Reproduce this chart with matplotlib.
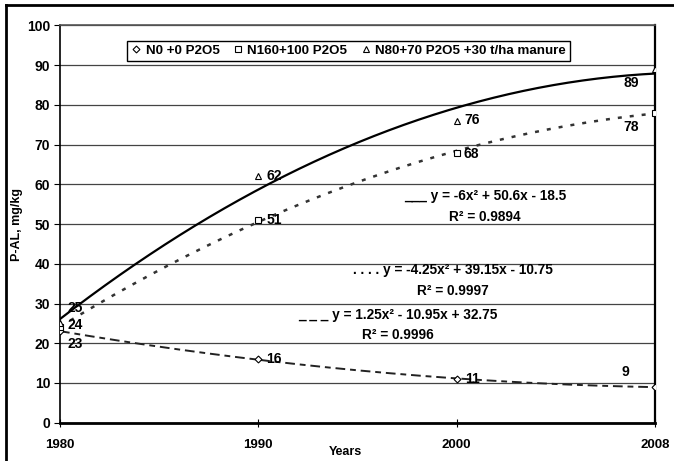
import numpy as np
import matplotlib
matplotlib.use("Agg")
import matplotlib.pyplot as plt
from matplotlib.lines import Line2D

plt.rcParams['font.family'] = ['Liberation Sans', 'DejaVu Sans']
plt.rcParams['font.weight'] = 'bold'

years = ['1980', '1990', '2000', '2008']
series_names = ['N0 +0 P2O5', 'N160+100 P2O5', 'N80+70 P2O5 +30 t/ha manure']
n0 = [23, 16, 11, 9]
n160 = [24, 51, 68, 78]
manure = [25, 62, 76, 89]

W, H = 674, 461
fig = plt.figure(figsize=(W / 100, H / 100), dpi=100)
ax = fig.add_axes([60 / W, 1 - 422.7 / H, (655 - 60) / W, (422.7 - 25.5) / H])

x = np.arange(1, len(years) + 1)
xs = np.linspace(1, len(years), 200)

# trendlines (2nd-order polynomial fits)
fits = {}
for name, vals, style in [
    ('man', manure, dict(ls='-', color='black', lw=1.6)),
    ('n160', n160, dict(ls=(0, (1.6, 3.2)), color='#333333', lw=1.8)),
    ('n0', n0, dict(ls=(0, (5, 2.5, 3, 2.5)), color='#222222', lw=1.4)),
]:
    c = np.polyfit(x, vals, 2)
    fits[name] = c
    ax.plot(xs, np.polyval(c, xs), zorder=3, **style)

mk = dict(ls='none', mfc='white', mec='black', mew=0.8, zorder=5)
ax.plot(x, n0, marker='D', ms=3.5, **mk)
ax.plot(x, n160, marker='s', ms=4.5, **mk)
ax.plot(x, manure, marker='^', ms=5, **mk)

ax.set_xlim(1, 4)
ax.set_ylim(0, 100)
ax.set_yticks(range(0, 101, 10))
ax.set_xticks(x)
ax.set_xticklabels(years)
ax.yaxis.grid(True, color='#444444', lw=0.9)
ax.set_axisbelow(True)
ax.tick_params(axis='y', labelsize=10, direction='out', length=4, width=0.8, pad=3)
ax.tick_params(axis='x', labelsize=9.5, direction='inout', length=6, width=0.8, pad=9)
for lab in ax.get_xticklabels() + ax.get_yticklabels():
    lab.set_fontweight('bold')
ax.spines['bottom'].set_linewidth(2)
ax.spines['left'].set_linewidth(1.2)
ax.spines['right'].set_linewidth(1.6)
ax.spines['top'].set_linewidth(1.2)
ax.spines['top'].set_color('#555555')

ax.set_ylabel('P-AL, mg/kg', fontsize=9, fontweight='bold', labelpad=3)
fig.text(345 / W, 1 - 452 / H, 'Years', fontsize=9, fontweight='bold',
         ha='center', va='center')

# data labels (offsets in pixels: right, down)
label_offsets = {
    'n0': [(8, 13), (8, 0), (8, 0), (-33, -15)],
    'n160': [(8, -2), (8, 0), (7, 1), (-32, 14)],
    'man': [(8, -15), (8, 0), (8, -1), (-31, 14)],
}
for name, vals in [('n0', n0), ('n160', n160), ('man', manure)]:
    for i, v in enumerate(vals):
        dx, dy = label_offsets[name][i]
        ax.annotate(str(v), (x[i], v), xytext=(dx, -dy), textcoords='offset pixels',
                    fontsize=10, fontweight='bold', ha='left', va='center', zorder=6,
                    annotation_clip=False)

def fmt(v):
    return f"{abs(v):.2f}".rstrip('0').rstrip('.')

def eq(c, prefix):
    a, b, d = c
    return (f"{prefix} y = {'-' if a < 0 else ''}{fmt(a)}x\u00b2 "
            f"{'+' if b >= 0 else '-'} {fmt(b)}x {'+' if d >= 0 else '-'} {fmt(d)}")

def r2(vals, c):
    vals = np.array(vals, float)
    pred = np.polyval(c, x)
    return 1 - np.sum((vals - pred) ** 2) / np.sum((vals - vals.mean()) ** 2)

eqs = [
    ('man', manure, '___', 485, 196, 217),
    ('n160', n160, '. . . .', 453, 270, 291),
    ('n0', n0, '_ _ _', 398, 315, 335),
]
for name, vals, pre, cx, y1, y2 in eqs:
    fig.text(cx / W, 1 - y1 / H, eq(fits[name], pre), fontsize=9.8, fontweight='bold',
             ha='center', va='center')
    fig.text(cx / W, 1 - y2 / H, f"R\u00b2 = {r2(vals, fits[name]):.4f}", fontsize=9.8,
             fontweight='bold', ha='center', va='center')

handles = [
    Line2D([], [], marker='D', ms=3.5, **mk),
    Line2D([], [], marker='s', ms=4.5, **mk),
    Line2D([], [], marker='^', ms=5, **mk),
]
leg = fig.legend(handles, series_names, loc='center', ncol=3,
                 bbox_to_anchor=(348.5 / W, 1 - 51 / H), fontsize=9.6,
                 frameon=True, fancybox=False, edgecolor='black', framealpha=1,
                 handlelength=0.8, handletextpad=0.3, columnspacing=1.0,
                 borderpad=0.3, borderaxespad=0)
leg.get_frame().set_linewidth(1.0)
for t in leg.get_texts():
    t.set_fontweight('bold')

# outer chart frame
fig.add_artist(Line2D([6 / W, 6 / W], [0, 1 - 5 / H], transform=fig.transFigure,
                      color='black', lw=2))
fig.add_artist(Line2D([6 / W, 1], [1 - 5 / H, 1 - 5 / H], transform=fig.transFigure,
                      color='black', lw=2))

fig.savefig('out.png', dpi=100)
